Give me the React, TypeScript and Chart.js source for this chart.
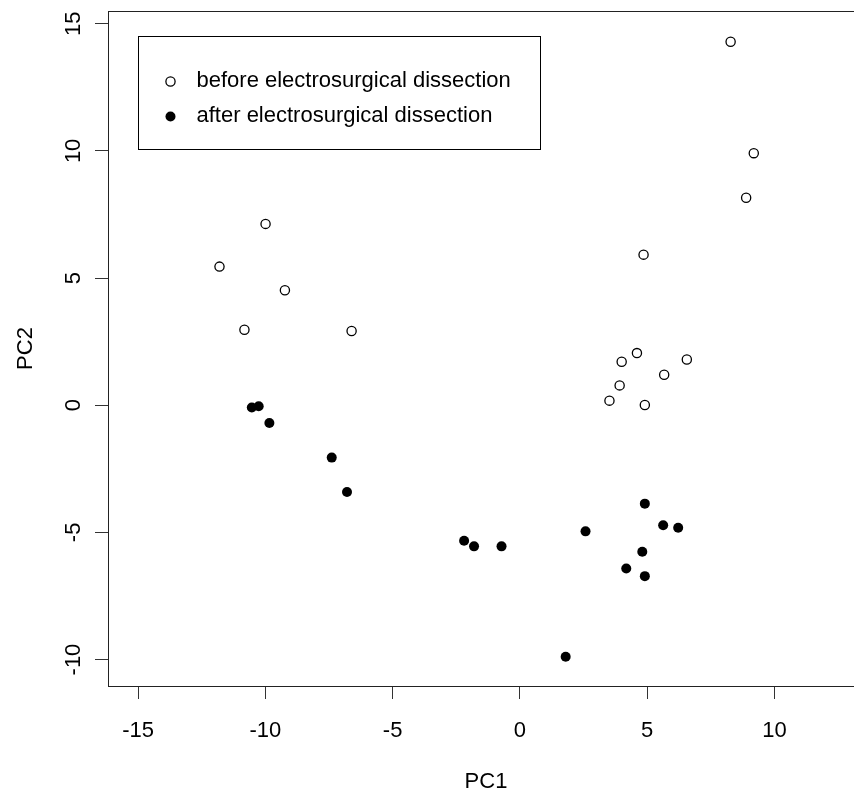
import React, { useEffect, useRef } from "react";
import { Chart, registerables } from "chart.js";

Chart.register(...registerables);

// PC scores
const beforeX = [8.28, 9.19, 8.89, -9.99, -11.8, -9.23, -10.82, -6.61, 4.86, 4.6, 4.0, 6.56, 5.67, 3.92, 3.52, 4.91];
const beforeY = [14.29, 9.91, 8.16, 7.13, 5.45, 4.52, 2.97, 2.92, 5.92, 2.05, 1.71, 1.8, 1.2, 0.78, 0.18, 0.01];
const afterX = [-10.53, -10.26, -9.84, -7.39, -6.79, -2.19, -1.8, -0.72, 2.58, 4.91, 5.63, 6.22, 4.81, 4.18, 4.91, 1.8];
const afterY = [-0.09, -0.04, -0.7, -2.06, -3.41, -5.33, -5.55, -5.55, -4.96, -3.87, -4.72, -4.82, -5.76, -6.42, -6.72, -9.89];

const seriesLabels = ["before electrosurgical dissection", "after electrosurgical dissection"];
const xTicks = [-15, -10, -5, 0, 5, 10];
const yTicks = [-10, -5, 0, 5, 10, 15];
const xTitle = "PC1";
const yTitle = "PC2";
const xRange = [-16.18, 13.52];
const yRange = [-11.04, 15.5];
const legendAnchor = [-15, 14.5];

const FONT_FAMILY = "'Liberation Sans', Arial, Helvetica, sans-serif";
const FONT_SIZE = 22;

const boxPlugin = {
  id: "plotBox",
  afterDatasetsDraw(chart: any) {
    const { ctx, chartArea } = chart;
    ctx.save();
    ctx.strokeStyle = "#222";
    ctx.lineWidth = 1;
    const l = Math.round(chartArea.left) + 0.5;
    const t = Math.round(chartArea.top) + 0.5;
    const r = Math.round(chartArea.right) + 0.5;
    const b = Math.round(chartArea.bottom) + 0.5;
    ctx.strokeRect(l, t, r - l, b - t);
    ctx.restore();
  },
};

const legendPlugin = {
  id: "boxLegend",
  afterDraw(chart: any) {
    const { ctx } = chart;
    const xs = chart.scales.x;
    const ys = chart.scales.y;
    const lx = Math.round(xs.getPixelForValue(legendAnchor[0])) + 0.5;
    const ly = Math.round(ys.getPixelForValue(legendAnchor[1])) + 0.5;
    const w = 402;
    const h = 113;
    ctx.save();
    ctx.fillStyle = "#fff";
    ctx.fillRect(lx, ly, w, h);
    ctx.strokeStyle = "#000";
    ctx.lineWidth = 1;
    ctx.strokeRect(lx, ly, w, h);
    const rows = [ly + 45, ly + 80];
    chart.data.datasets.forEach((ds: any, i: number) => {
      const cy = rows[i];
      const cx = lx + 32;
      ctx.beginPath();
      ctx.arc(cx, cy, ds.pointRadius, 0, Math.PI * 2);
      ctx.fillStyle = ds.pointBackgroundColor;
      ctx.fill();
      if (ds.pointBorderWidth > 0) {
        ctx.lineWidth = ds.pointBorderWidth;
        ctx.strokeStyle = ds.pointBorderColor;
        ctx.stroke();
      }
      ctx.fillStyle = "#000";
      ctx.font = `${FONT_SIZE}px ${FONT_FAMILY}`;
      ctx.textBaseline = "middle";
      ctx.textAlign = "left";
      ctx.fillText(ds.label, lx + 58, cy - 1);
    });
    ctx.restore();
  },
};

export default function App() {
  const ref = useRef<HTMLCanvasElement | null>(null);

  useEffect(() => {
    document.body.style.margin = "0";
    const canvas = ref.current;
    if (!canvas) return;
    const font = { family: FONT_FAMILY, size: FONT_SIZE };
    const chart = new Chart(canvas, {
      type: "scatter",
      data: {
        datasets: [
          {
            label: seriesLabels[0],
            data: beforeX.map((x, i) => ({ x, y: beforeY[i] })),
            pointRadius: 4.6,
            pointBackgroundColor: "#fff",
            pointBorderColor: "#000",
            pointBorderWidth: 1.3,
            showLine: false,
          },
          {
            label: seriesLabels[1],
            data: afterX.map((x, i) => ({ x, y: afterY[i] })),
            pointRadius: 5,
            pointBackgroundColor: "#000",
            pointBorderColor: "#000",
            pointBorderWidth: 0,
            showLine: false,
          },
        ],
      },
      options: {
        responsive: false,
        animation: false,
        layout: { padding: { left: 0, top: 11, right: 6, bottom: 0 } },
        plugins: { legend: { display: false }, tooltip: { enabled: false } },
        scales: {
          x: {
            type: "linear",
            position: "bottom",
            min: xRange[0],
            max: xRange[1],
            afterBuildTicks: (s: any) => {
              s.ticks = xTicks.map((v) => ({ value: v }));
            },
            afterFit: (s: any) => {
              s.height = 109;
              s.paddingLeft = 0;
              s.paddingRight = 0;
            },
            grid: { drawOnChartArea: false, drawTicks: true, tickLength: 13, color: "#333", lineWidth: 1 },
            border: { display: true, color: "#222", width: 1 },
            ticks: { font, color: "#000", padding: 19, maxRotation: 0, minRotation: 0, autoSkip: false, callback: (v: any) => String(v) },
            title: { display: true, text: xTitle, font, color: "#000", padding: { top: 0, bottom: 0 } },
          },
          y: {
            type: "linear",
            position: "left",
            min: yRange[0],
            max: yRange[1],
            afterBuildTicks: (s: any) => {
              s.ticks = yTicks.map((v) => ({ value: v }));
            },
            afterFit: (s: any) => {
              s.width = 108;
              s.paddingTop = 0;
              s.paddingBottom = 0;
            },
            grid: { drawOnChartArea: false, drawTicks: true, tickLength: 13, color: "#333", lineWidth: 1 },
            border: { display: true, color: "#222", width: 1 },
            ticks: { font, color: "#000", padding: 5, minRotation: 90, maxRotation: 90, crossAlign: "center", autoSkip: false, callback: (v: any) => String(v) },
            title: { display: true, text: yTitle, font, color: "#000", padding: { top: 12.6, bottom: 0 } },
          },
        },
      },
      plugins: [boxPlugin, legendPlugin],
    } as any);
    return () => chart.destroy();
  }, []);

  return (
    <div style={{ width: 854, height: 795, overflow: "hidden", background: "#fff" }}>
      <canvas ref={ref} width={870} height={795} style={{ display: "block" }} />
    </div>
  );
}
